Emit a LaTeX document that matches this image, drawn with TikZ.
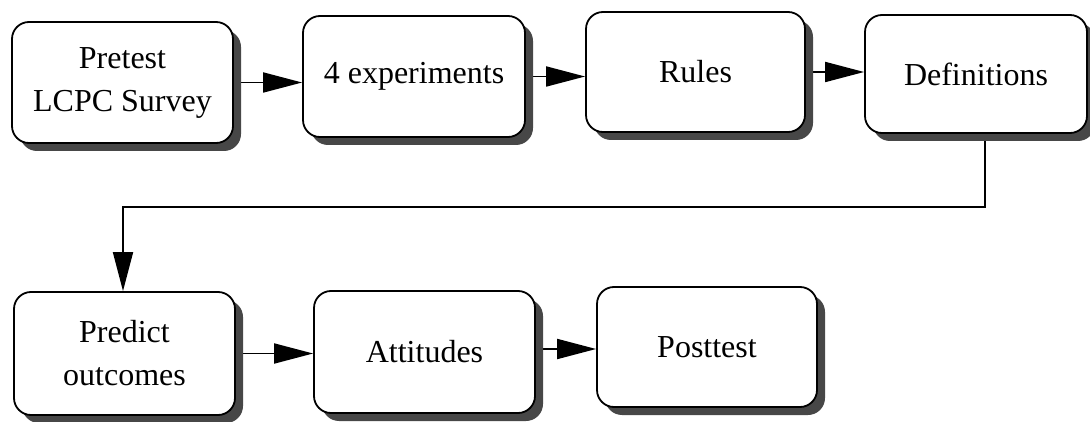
\documentclass[tikz,border=0pt]{standalone}
\usepackage{fontspec}
\setmainfont{Liberation Serif}
\usetikzlibrary{arrows.meta,backgrounds}
\begin{document}
\begin{tikzpicture}[x=1pt,y=-1pt,
  stepbox/.style={draw=black, line width=1.8pt, fill=white, rounded corners=17pt,
    minimum width=#1, inner sep=0pt, align=center,
    font=\fontsize{32}{43}\selectfont,
    preaction={draw=none, fill=black!72, transform canvas={xshift=8pt, yshift=-8pt}}},
  stepbox/.default=221pt,
  conn/.style={line width=1.8pt, -{Triangle[length=39pt,width=20pt]}}
]
\useasboundingbox (0,0) rectangle (1090,422);
\node[stepbox, minimum height=121pt] (b1) at (122.5,82.5) {Pretest\\LCPC Survey};
\node[stepbox=222pt, minimum height=121pt] (b2) at (414,76.5) {4 experiments};
\node[stepbox=219pt, minimum height=120pt] (b3) at (695.5,72) {Rules};
\node[stepbox=222pt, minimum height=118pt] (b4) at (976,74) {Definitions};
\node[stepbox, minimum height=123pt] (b5) at (124.5,353.5) {Predict\\outcomes};
\node[stepbox, minimum height=122pt] (b6) at (424.5,352) {Attitudes};
\node[stepbox=220pt, minimum height=120pt] (b7) at (707,347) {Posttest};
\coordinate (c1) at (985,207);
\coordinate (c2) at (123,207);
\begin{scope}[on background layer]
\draw[conn] (b1.east) -- (b1.east -| b2.west);
\draw[conn] (b2.east) -- (b2.east -| b3.west);
\draw[conn] (b3.east) -- (b3.east -| b4.west);
\draw[conn] (b5.east) -- (b5.east -| b6.west);
\draw[conn] ([yshift=3pt]b6.east) -- ([yshift=3pt]b6.east -| b7.west);
\draw[conn] (b4.south -| c1) -- (c1) -- (c2) -- (b5.north -| c2);
\end{scope}
\end{tikzpicture}
\end{document}
